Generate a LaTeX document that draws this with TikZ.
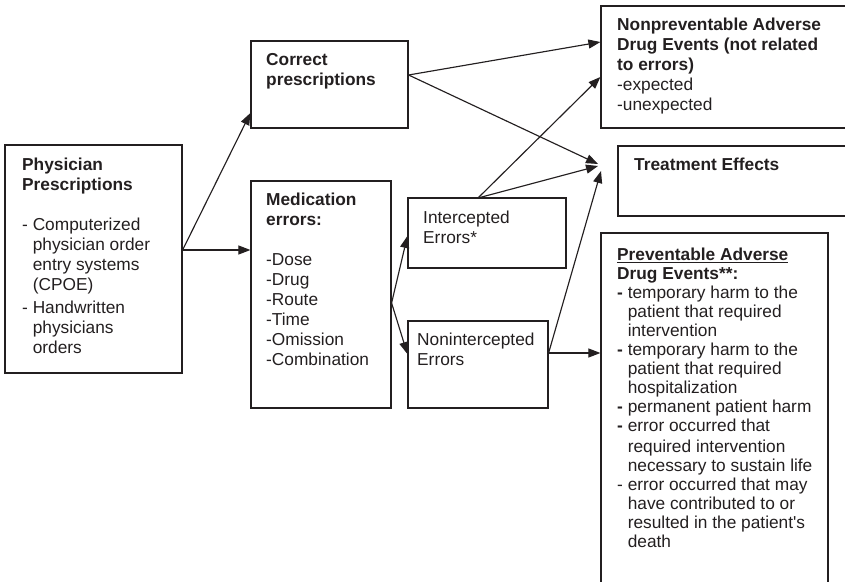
\documentclass[tikz,border=0pt]{standalone}
\usepackage{fontspec}
\setmainfont{Liberation Sans}
\usetikzlibrary{arrows.meta,fit,calc}
\definecolor{ink}{HTML}{231F20}
\tikzset{box/.style={draw=ink,line width=1.2bp,inner sep=0pt}, txt/.style={anchor=north west,inner sep=0pt,align=left,text=ink,font=\fontsize{17.3bp}{20bp}\selectfont}, flow/.style={-{Triangle[length=12bp,width=9bp]},line width=1.15bp,draw=ink}}
\newcommand{\ind}{\hphantom{- }}

\begin{document}
\begin{tikzpicture}[x=1bp,y=-1bp]
\useasboundingbox (0,0) rectangle (845,582);
\node[box,fit={(5,145) (182,373)}] (phys) {};
\node[box,fit={(251,41) (408,128)}] (cp) {};
\node[box,fit={(251,181) (391,408)}] (med) {};
\node[box,fit={(408,198) (566,268)}] (icp) {};
\node[box,fit={(408,321) (548,408)}] (nicp) {};
\node[box,fit={(601,6) (860,128)}] (nade) {};
\node[box,fit={(618,146) (860,216)}] (treat) {};
\node[box,fit={(601,233) (828,600)}] (pade) {};
\node[txt] (physT) at (22,158) {\textbf{Physician}\\\textbf{Prescriptions}\\[20bp]- Computerized\\\ind physician order\\\ind entry systems\\\ind (CPOE)\\[3bp]- Handwritten\\\ind physicians\\\ind orders};
\node[txt] (cpT) at (266,53) {\textbf{Correct}\\\textbf{prescriptions}};
\node[txt] (medT) at (266,193) {\textbf{Medication}\\\textbf{errors:}\\[20bp]-Dose\\-Drug\\-Route\\-Time\\-Omission\\-Combination};
\node[txt] (icpT) at (423,211) {Intercepted\\Errors*};
\node[txt] (nicpT) at (417,333) {Nonintercepted\\Errors};
\node[txt] (nadeT) at (617,18) {\textbf{Nonpreventable Adverse}\\\textbf{Drug Events (not related}\\\textbf{to errors)}\\-expected\\-unexpected};
\node[txt] (treatT) at (634,158) {\textbf{Treatment Effects}};
\node[txt,font=\fontsize{17.3bp}{19bp}\selectfont] (padeT) at (617,248) {\textbf{\underline{Preventable Adverse}}\\\textbf{Drug Events**:}\\\textbf{-} temporary harm to the\\\ind patient that required\\\ind intervention\\\textbf{-} temporary harm to the\\\ind patient that required\\\ind hospitalization\\\textbf{-} permanent patient harm\\\textbf{-} error occurred that\\[2bp]\ind required intervention\\\ind necessary to sustain life\\- error occurred that may\\\ind have contributed to or\\\ind resulted in the patient\textquotesingle s\\\ind death};
\coordinate (physout) at (phys.east |- 0,250);
\coordinate (cpout) at (cp.east |- 0,75);
\coordinate (medout) at (med.east |- 0,303);
\coordinate (icpout) at (478,198);
\coordinate (nicpout) at (nicp.east |- 0,353);
\coordinate (hub) at (598,164);
\draw[flow] (physout) -- (cp.west |- 0,113);
\draw[flow] (physout) -- (med.west |- physout);
\draw[flow] (cpout) -- (nade.west |- 0,42);
\draw[flow] (cpout) -- (hub);
\draw[flow] (medout) -- (icp.west |- 0,236);
\draw[flow] (medout) -- (nicp.west |- 0,354);
\draw[flow] (icpout) -- (nade.west |- 0,77);
\draw[flow] (icpout) -- ($(hub)+(0,2)$);
\draw[flow] (nicpout) -- ($(hub)+(3,7)$);
\draw[flow] (nicpout) -- (pade.west |- nicpout);
\end{tikzpicture}
\end{document}
